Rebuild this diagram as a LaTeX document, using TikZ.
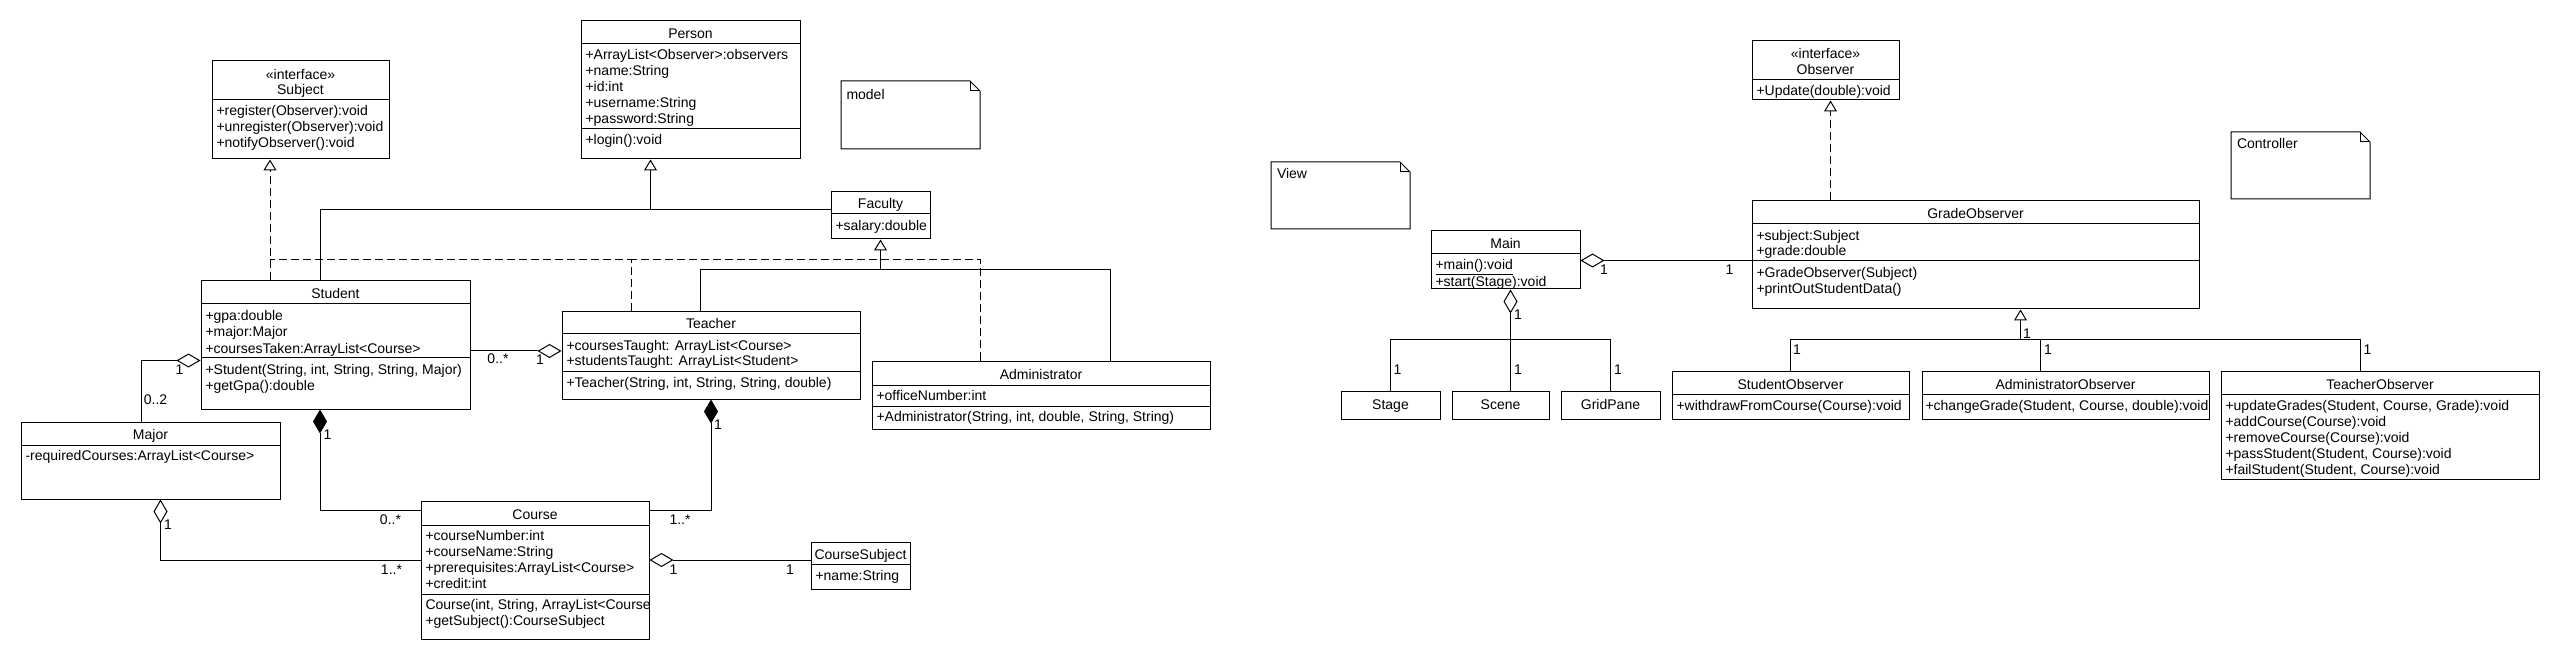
\documentclass[tikz,border=0pt]{standalone}
\usepackage{fontspec}
\newfontfamily\umlff{Liberation Sans}
\usetikzlibrary{arrows.meta,fit}
\newcommand\umlfont{\umlff\fontsize{14}{16}\selectfont}
\tikzset{
  box/.style={draw, inner sep=0pt},
  txt/.style={anchor=base west, inner sep=0pt, font=\umlfont},
  ctxt/.style={anchor=base, inner sep=0pt, font=\umlfont},
  lbl/.style={anchor=center, inner sep=0pt, font=\umlfont},
  realz/.style={dash pattern=on 8pt off 4pt},
  gen/.style={-{Triangle[open, length=11pt, width=13pt]}},
  agg/.style={{Diamond[open, length=24pt, width=14pt]}-},
  comp/.style={{Diamond[length=24pt, width=14pt]}-},
}
\begin{document}
\begin{tikzpicture}[x=1pt, y=-1pt, line width=1pt]
\path[use as bounding box, fill=white] (0,0) rectangle (2560,660);

% ---------------- Subject
\node[box, fit={(212,61) (389,159)}] (subject) {};
\draw (212,100) -- (389,100);
\node[ctxt] (subject-s) at (300.5,80) {«interface»};
\node[ctxt] (subject-n) at (300.5,95) {Subject};
\node[txt] (subject-m1) at (216,116) {+register(Observer):void};
\node[txt] (subject-m2) at (216,132) {+unregister(Observer):void};
\node[txt] (subject-m3) at (216,148) {+notifyObserver():void};

% ---------------- Person
\node[box, fit={(581,21) (800,159)}] (person) {};
\draw (581,44) -- (800,44);
\draw (581,129) -- (800,129);
\node[ctxt] (person-n) at (690.5,39) {Person};
\node[txt] (person-a1) at (585,60) {+ArrayList<Observer>:observers};
\node[txt] (person-a2) at (585,76) {+name:String};
\node[txt] (person-a3) at (585,92) {+id:int};
\node[txt] (person-a4) at (585,108) {+username:String};
\node[txt] (person-a5) at (585,124) {+password:String};
\node[txt] (person-m1) at (585,145) {+login():void};

% ---------------- model note
\draw (841,81) -- (970,81) -- (980,91) -- (980,149) -- (841,149) -- cycle;
\draw (970,81) -- (970,91) -- (980,91);
\node[txt] (model-t) at (846,99.5) {model};

% ---------------- Faculty
\node[box, fit={(831,192) (930,239)}] (faculty) {};
\draw (831,214) -- (930,214);
\node[ctxt] (faculty-n) at (880.5,209) {Faculty};
\node[txt] (faculty-a1) at (835,230.5) {+salary:double};

% ---------------- Student
\node[box, fit={(201,281) (470,409)}] (student) {};
\draw (201,304) -- (470,304);
\draw (201,357) -- (470,357);
\node[ctxt] (student-n) at (335.5,299) {Student};
\node[txt] (student-a1) at (205,321) {+gpa:double};
\node[txt] (student-a2) at (205,337) {+major:Major};
\node[txt] (student-a3) at (205,353) {+coursesTaken:ArrayList<Course>};
\node[txt] (student-m1) at (205,374) {+Student(String, int, String, String, Major)};
\node[txt] (student-m2) at (205,390) {+getGpa():double};

% ---------------- Teacher
\node[box, fit={(562,312) (860,399)}] (teacher) {};
\draw (562,334) -- (860,334);
\draw (562,371) -- (860,371);
\node[ctxt] (teacher-n) at (711,329) {Teacher};
\node[txt] (teacher-a1) at (566,350) {+coursesTaught: ArrayList<Course>};
\node[txt] (teacher-a2) at (566,366) {+studentsTaught: ArrayList<Student>};
\node[txt] (teacher-m1) at (566,387) {+Teacher(String, int, String, String, double)};

% ---------------- Administrator
\node[box, fit={(872,361) (1210,429)}] (admin) {};
\draw (872,385) -- (1210,385);
\draw (872,406) -- (1210,406);
\node[ctxt] (admin-n) at (1041,379) {Administrator};
\node[txt] (admin-a1) at (876,400) {+officeNumber:int};
\node[txt] (admin-m1) at (876,421) {+Administrator(String, int, double, String, String)};

% ---------------- Major
\node[box, fit={(21,422) (280,499)}] (major) {};
\draw (21,445) -- (280,445);
\node[ctxt] (major-n) at (150.5,439) {Major};
\node[txt] (major-a1) at (25,460.5) {-requiredCourses:ArrayList<Course>};

% ---------------- Course
\node[box, fit={(421,501) (649,639)}] (course) {};
\draw (421,525) -- (649,525);
\draw (421,594) -- (649,594);
\node[ctxt] (course-n) at (535,519) {Course};
\node[txt] (course-a1) at (425,540.5) {+courseNumber:int};
\node[txt] (course-a2) at (425,556.5) {+courseName:String};
\node[txt] (course-a3) at (425,572) {+prerequisites:ArrayList<Course>};
\node[txt] (course-a4) at (425,588) {+credit:int};
\begin{scope}
\clip (421,594) rectangle (648.5,639);
\node[txt] (course-m1) at (425,609) {Course(int, String, ArrayList<Course};
\end{scope}
\node[txt] (course-m2) at (425,625) {+getSubject():CourseSubject};

% ---------------- CourseSubject
\node[box, fit={(811,542) (910,589)}] (csubj) {};
\draw (811,564) -- (910,564);
\node[ctxt] (csubj-n) at (860.5,559) {CourseSubject};
\node[txt] (csubj-a1) at (815,580.5) {+name:String};

% ---------------- Observer
\node[box, fit={(1752,41) (1899,100)}] (observer) {};
\draw (1752,80) -- (1899,80);
\node[ctxt] (observer-s) at (1825.5,59) {«interface»};
\node[ctxt] (observer-n) at (1825.5,75) {Observer};
\node[txt] (observer-m1) at (1756,96) {+Update(double):void};

% ---------------- View note
\draw (1271,162) -- (1400,162) -- (1410,172) -- (1410,229) -- (1271,229) -- cycle;
\draw (1400,162) -- (1400,172) -- (1410,172);
\node[txt] (view-t) at (1276.5,179) {View};

% ---------------- Controller note
\draw (2231,132) -- (2360,132) -- (2370,142) -- (2370,199) -- (2231,199) -- cycle;
\draw (2360,132) -- (2360,142) -- (2370,142);
\node[txt] (ctrl-t) at (2236.5,149) {Controller};

% ---------------- Main
\node[box, fit={(1431,231) (1580,289)}] (main) {};
\draw (1431,254) -- (1580,254);
\node[ctxt] (main-n) at (1505.5,249) {Main};
\node[txt] (main-m1) at (1435,270) {\underline{+main():void}};
\node[txt] (main-m2) at (1435,286.5) {+start(Stage):void};

% ---------------- Stage, Scene, GridPane
\node[box, fit={(1341,391) (1440,419)}] (stage) {};
\node[ctxt] (stage-n) at (1390.5,409) {Stage};
\node[box, fit={(1452,391) (1549,419)}] (scene) {};
\node[ctxt] (scene-n) at (1500.5,409) {Scene};
\node[box, fit={(1561,391) (1660,419)}] (gridpane) {};
\node[ctxt] (gridpane-n) at (1610.5,409) {GridPane};

% ---------------- GradeObserver
\node[box, fit={(1752,201) (2199,309)}] (gradeobs) {};
\draw (1752,224) -- (2199,224);
\draw (1752,261) -- (2199,261);
\node[ctxt] (gradeobs-n) at (1975.5,219) {GradeObserver};
\node[txt] (gradeobs-a1) at (1756,240.5) {+subject:Subject};
\node[txt] (gradeobs-a2) at (1756,256) {+grade:double};
\node[txt] (gradeobs-m1) at (1756,277.5) {+GradeObserver(Subject)};
\node[txt] (gradeobs-m2) at (1756,293.5) {+printOutStudentData()};

% ---------------- StudentObserver
\node[box, fit={(1672,371) (1909,419)}] (studobs) {};
\draw (1672,394) -- (1909,394);
\node[ctxt] (studobs-n) at (1790.5,389) {StudentObserver};
\node[txt] (studobs-m1) at (1676,410.5) {+withdrawFromCourse(Course):void};

% ---------------- AdministratorObserver
\node[box, fit={(1922,371) (2209,419)}] (adminobs) {};
\draw (1922,394) -- (2209,394);
\node[ctxt] (adminobs-n) at (2065.5,389) {AdministratorObserver};
\node[txt] (adminobs-m1) at (1925,410.5) {+changeGrade(Student, Course, double):void};

% ---------------- TeacherObserver
\node[box, fit={(2221,371) (2539,479)}] (teachobs) {};
\draw (2221,394) -- (2539,394);
\node[ctxt] (teachobs-n) at (2380,389) {TeacherObserver};
\node[txt] (teachobs-m1) at (2225,410.5) {+updateGrades(Student, Course, Grade):void};
\node[txt] (teachobs-m2) at (2225,426.5) {+addCourse(Course):void};
\node[txt] (teachobs-m3) at (2225,442) {+removeCourse(Course):void};
\node[txt] (teachobs-m4) at (2225,458) {+passStudent(Student, Course):void};
\node[txt] (teachobs-m5) at (2225,474) {+failStudent(Student, Course):void};

% ================= Connectors
% realization of Subject
\coordinate (jR) at (270,260);
\coordinate (jR2) at (631,260);
\draw[realz, gen] (student.north -| jR) -- (subject.south -| jR);
\draw[realz] (teacher.north -| jR2) |- (jR);
\draw[realz] (admin.north -| 980.5,0) |- (jR2);

% generalization to Person
\coordinate (jP) at (650.5,210);
\draw[gen] (jP) -- (person.south -| jP);
\draw (student.north -| 320,0) |- (jP);
\draw (faculty.west |- jP) -- (jP);

% generalization to Faculty
\coordinate (jF) at (880.5,270);
\draw[gen] (jF) -- (faculty.south);
\draw (teacher.north -| 700.5,0) |- (jF);
\draw (admin.north -| 1110.5,0) |- (jF);

% Student - Teacher
\draw[agg] (teacher.west |- 0,351) -- (student.east |- 0,351);
\node[lbl] (l3) at (498,359) {0..*};
\node[lbl] (l4) at (540,359.5) {1};

% Student - Major
\draw[agg] (student.west |- 0,360.5) -| (major.north -| 141,0);
\node[lbl] (l1) at (179.5,369.5) {1};
\node[lbl] (l2) at (155.5,399.5) {0..2};

% Student - Course
\draw[comp] (student.south -| 320,0) |- (course.west |- 0,510);
\node[lbl] (l5) at (327.5,434.5) {1};
\node[lbl] (l6) at (390.5,519.5) {0..*};

% Teacher - Course
\draw[comp] (teacher.south -| 711,0) |- (course.east |- 0,510);
\node[lbl] (l7) at (718,424.5) {1};
\node[lbl] (l8) at (680,519.5) {1..*};

% Major - Course
\draw[agg] (major.south -| 160.5,0) |- (course.west |- 0,560);
\node[lbl] (l9) at (168,525) {1};
\node[lbl] (l10) at (391.5,569.5) {1..*};

% Course - CourseSubject
\draw[agg] (course.east |- 0,560) -- (csubj.west |- 0,560);
\node[lbl] (l11) at (673.5,569.5) {1};
\node[lbl] (l12) at (790,569.5) {1};

% Main - GradeObserver
\draw[agg] (main.east |- 0,260.5) -- (gradeobs.west |- 0,260.5);
\node[lbl] (l13) at (1604,269.5) {1};
\node[lbl] (l14) at (1729.5,269.5) {1};

% Main - Stage/Scene/GridPane
\coordinate (jM) at (1510.5,340);
\draw[agg] (main.south -| jM) -- (jM);
\draw (jM) -| (stage.north);
\draw (jM) -- (scene.north -| jM);
\draw (jM) -| (gridpane.north);
\node[lbl] (l15) at (1518,314.5) {1};
\node[lbl] (l16) at (1397.5,369.5) {1};
\node[lbl] (l17) at (1518,369.5) {1};
\node[lbl] (l18) at (1618,369.5) {1};

% realization of Observer
\draw[realz, gen] (gradeobs.north -| 1830.5,0) -- (observer.south -| 1830.5,0);

% generalization to GradeObserver
\coordinate (jG) at (2020.5,340);
\draw[gen] (jG) -- (gradeobs.south -| jG);
\draw (jG) -| (studobs.north);
\draw (jG) -| (adminobs.north -| 2040.5,0);
\draw (jG) -| (teachobs.north -| 2360.5,0);
\node[lbl] (l19) at (2027,333.5) {1};
\node[lbl] (l20) at (1797,349.5) {1};
\node[lbl] (l21) at (2048,349.5) {1};
\node[lbl] (l22) at (2367.5,349.5) {1};
\end{tikzpicture}
\end{document}
